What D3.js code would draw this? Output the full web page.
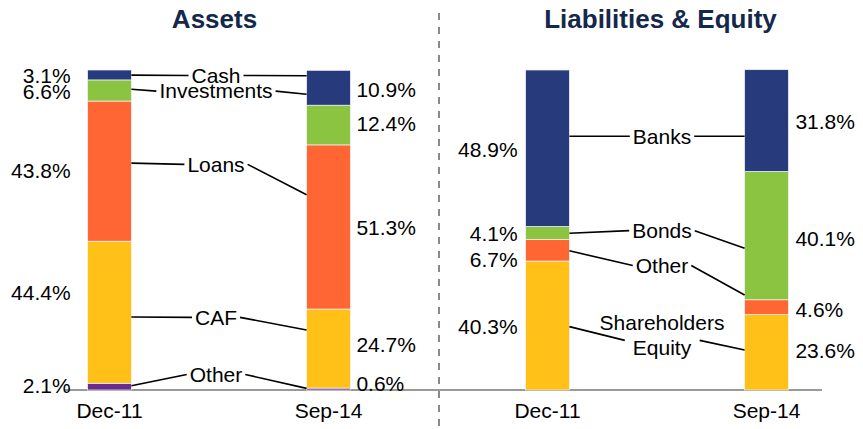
<!DOCTYPE html>
<html lang="en">
<head>
<meta charset="UTF-8">
<title>Assets / Liabilities & Equity</title>
<script src="https://d3js.org/d3.v7.min.js"></script>
<style>
  body { margin: 0; background: #fff; }
  svg { display: block; font-family: "Liberation Sans", Arial, Helvetica, sans-serif; }
</style>
</head>
<body>
<div id="chart"></div>
<script>
// periods shown under each bar
const periods = ['Dec-11', 'Sep-14'];

// Assets, stacked bottom to top (% of total)
const assetCategories = ['Other', 'CAF', 'Loans', 'Investments', 'Cash'];
const assetsDec11 = [2.1, 44.4, 43.8, 6.6, 3.1];
const assetsSep14 = [0.6, 24.7, 51.3, 12.4, 10.9];

// Liabilities & Equity, stacked bottom to top (% of total)
const liabCategories = ['Shareholders Equity', 'Other', 'Bonds', 'Banks'];
const liabDec11 = [40.3, 6.7, 4.1, 48.9];
const liabSep14 = [23.6, 4.6, 40.1, 31.8];

const assetColors = ['#6a2c8e', '#ffc118', '#ff6633', '#8bc441', '#263a7c'];
const liabColors = ['#ffc118', '#ff6633', '#8bc441', '#263a7c'];

// layout: small vertical nudges of the % labels (in % units), same order as the stacks
const assetNudge = { 'Dec-11': [0.4, 6, 0.3, -0.5, -0.3], 'Sep-14': [1.7, 1.1, -0.3, 0.3, -0.7] };
const liabNudge = { 'Dec-11': [-0.35, -3, -0.3, -0.5], 'Sep-14': [0.5, -0.9, -0.9, -0.45] };

// layout: callout names between the bars; y = text centre, from/to = where the leader
// touches the Dec-11 / Sep-14 bar, at = leader height next to the text (all in % units)
const assetCallouts = [
  { lines: ['Cash'], y: 98.3, from: 98.4, to: 98.2 },
  { lines: ['Investments'], y: 93.4, from: 94, to: 92.4 },
  { lines: ['Loans'], y: 70.5, from: 70.9, to: 61 },
  { lines: ['CAF'], y: 22.7, from: 22.8, to: 18.75 },
  { lines: ['Other'], y: 4.85, from: 1.35, to: 0.5 }
];
const liabCallouts = [
  { lines: ['Banks'], y: 79.3, from: 79.3, to: 79.3 },
  { lines: ['Bonds'], y: 49.8, from: 49, to: 44.3 },
  { lines: ['Other'], y: 38.9, from: 43.5, to: 29.7 },
  { lines: ['Shareholders', 'Equity'], y: 17.2, from: 19.8, to: 12.5, at: 15.5 }
];

const width = 863, height = 429;
const panelWidth = 438;
const textColor = '#000';
const fontSize = '21px';

const svg = d3.select('#chart').append('svg')
  .attr('width', width)
  .attr('height', height);

// shared vertical scale, 0% at the baseline
const y = d3.scaleLinear().domain([0, 100]).range([390, 70]);

// dashed divider between the panels
svg.append('line')
  .attr('x1', 439).attr('x2', 439)
  .attr('y1', 13).attr('y2', height)
  .attr('stroke', '#8a8a8a')
  .attr('stroke-width', 2)
  .attr('stroke-dasharray', '7,7');

// baseline running under both panels
svg.append('line')
  .attr('x1', 65).attr('x2', 822)
  .attr('y1', y(0)).attr('y2', y(0))
  .attr('stroke', '#9a9a9a')
  .attr('stroke-width', 2);

function drawPanel(opt) {
  const g = svg.append('g').attr('transform', `translate(${opt.x0},0)`);

  const x = d3.scaleBand()
    .domain(periods)
    .range([0, panelWidth])
    .paddingInner(0.8)
    .paddingOuter(0.4);
  const bw = x.bandwidth();

  // title
  g.append('text')
    .attr('x', panelWidth / 2 + opt.titleDx)
    .attr('y', 28)
    .attr('text-anchor', 'middle')
    .style('font-size', '26px')
    .style('font-weight', 'bold')
    .style('fill', '#14284b')
    .text(opt.title);

  const rows = periods.map((p, i) => {
    const r = { period: p };
    opt.categories.forEach((c, j) => { r[c] = opt.values[i][j]; });
    return r;
  });
  const series = d3.stack().keys(opt.categories)(rows);

  // stacked bars
  g.selectAll('g.series')
    .data(series)
    .join('g')
    .attr('class', 'series')
    .attr('fill', (d, i) => opt.colors[i])
    .selectAll('rect')
    .data(d => d)
    .join('rect')
    .attr('x', d => x(d.data.period))
    .attr('width', bw)
    .attr('y', d => y(d[1]))
    .attr('height', d => y(d[0]) - y(d[1]))
    .attr('stroke', '#f4f4f8')
    .attr('stroke-width', 0.7);

  // % labels: left of the first bar, right of the second
  series.forEach((s, i) => {
    s.forEach(d => {
      const p = d.data.period;
      const first = p === periods[0];
      const mid = (d[0] + d[1]) / 2 + opt.nudge[p][i];
      g.append('text')
        .attr('x', first ? x(p) - opt.gapLeft : x(p) + bw + opt.gapRight)
        .attr('y', y(mid))
        .attr('dy', '0.35em')
        .attr('text-anchor', first ? 'end' : 'start')
        .style('font-size', fontSize)
        .style('fill', textColor)
        .text((d[1] - d[0]).toFixed(1) + '%');
    });
  });

  // callouts with leader lines
  const cx = panelWidth / 2 + opt.labelDx;
  const lineH = 25;
  opt.callouts.forEach(c => {
    const n = c.lines.length;
    const t = g.append('text')
      .attr('text-anchor', 'middle')
      .style('font-size', fontSize)
      .style('fill', textColor);
    const spans = c.lines.map((line, k) => t.append('tspan')
      .attr('x', cx)
      .attr('y', y(c.y) + (k - (n - 1) / 2) * lineH)
      .attr('dy', '0.35em')
      .text(line));
    const box = spans[n - 1].node().getBBox();
    const gap = n > 1 ? 8 : 3;
    const ty = y(c.at !== undefined ? c.at : c.y);

    g.append('line')
      .attr('x1', x(periods[0]) + bw).attr('y1', y(c.from))
      .attr('x2', box.x - gap).attr('y2', ty)
      .attr('stroke', '#000').attr('stroke-width', 1.6);
    g.append('line')
      .attr('x1', box.x + box.width + gap).attr('y1', ty)
      .attr('x2', x(periods[1])).attr('y2', y(c.to))
      .attr('stroke', '#000').attr('stroke-width', 1.6);
  });

  // period labels
  const axis = g.append('g')
    .attr('transform', `translate(0,${y(0)})`)
    .call(d3.axisBottom(x).tickSize(0).tickPadding(24));
  axis.select('.domain').remove();
  axis.selectAll('text')
    .attr('dy', '0.2em')
    .style('font-family', '"Liberation Sans", Arial, sans-serif')
    .style('font-size', fontSize)
    .style('fill', textColor);
}

drawPanel({
  x0: 0, title: 'Assets', titleDx: -4.5, labelDx: -3,
  categories: assetCategories, values: [assetsDec11, assetsSep14],
  colors: assetColors, nudge: assetNudge, callouts: assetCallouts,
  gapLeft: 17, gapRight: 6
});

drawPanel({
  x0: panelWidth, title: 'Liabilities & Equity', titleDx: 3.5, labelDx: 5,
  categories: liabCategories, values: [liabDec11, liabSep14],
  colors: liabColors, nudge: liabNudge, callouts: liabCallouts,
  gapLeft: 8, gapRight: 7
});
</script>
</body>
</html>
